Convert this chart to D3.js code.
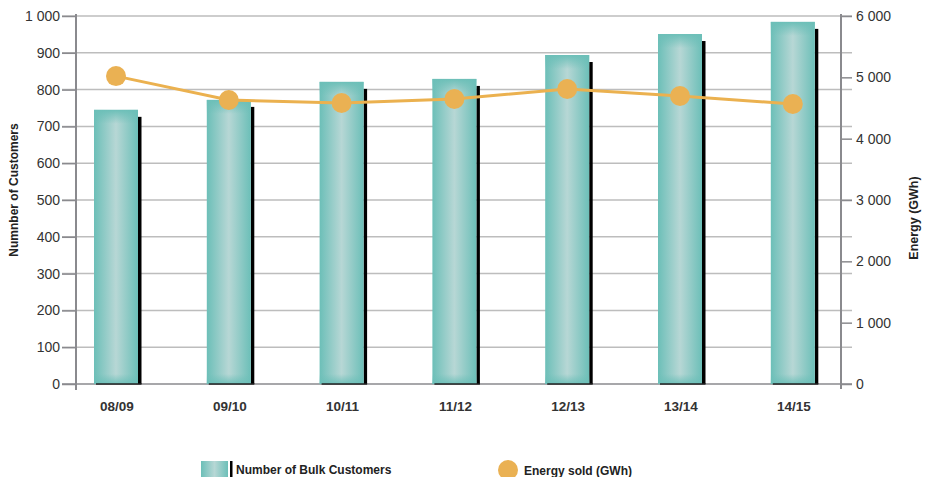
<!DOCTYPE html>
<html><head><meta charset="utf-8">
<script src="https://cdn.jsdelivr.net/npm/d3@7"></script>
<style>body{margin:0;background:#fff}svg{display:block;font-family:"Liberation Sans",Arial,sans-serif}</style>
</head><body><svg id="c" width="929" height="477"></svg>
<script>
const categories = ["08/09","09/10","10/11","11/12","12/13","13/14","14/15"];
const customers = [745, 772, 821, 829, 894, 951, 984];
const energy = [5020, 4630, 4582, 4647, 4810, 4696, 4565];
const leftTicks = [0,100,200,300,400,500,600,700,800,900,1000];
const rightTicks = [0,1000,2000,3000,4000,5000,6000];
const seriesNames = ["Number of Bulk Customers","Energy sold (GWh)"];

const svg = d3.select("#c");
const fmt = v => d3.format(",")(v).replace(/,/g, " ");
const x = d3.scaleBand().domain(categories).range([59.6, 849.2]).paddingInner(0.61).paddingOuter(0.305);
const yL = d3.scaleLinear().domain([0,1000]).range([384,16]);
const yR = d3.scaleLinear().domain([0,6000]).range([384,16]);
const axL = 76, axR = 841;

const defs = svg.append("defs");
const g1 = defs.append("linearGradient").attr("id","gh").attr("x1","0").attr("x2","1").attr("y1","0").attr("y2","0");
[[0,"#6cbfb8"],[0.5,"#b7d7d5"],[1,"#6cbfb8"]].forEach(s=>g1.append("stop").attr("offset",s[0]).attr("stop-color",s[1]));
const g2 = defs.append("linearGradient").attr("id","gv").attr("x1","0").attr("x2","0").attr("y1","0").attr("y2","1");
[[0,"#6cbfb8",1],[1,"#6cbfb8",0]].forEach(s=>g2.append("stop").attr("offset",s[0]).attr("stop-color",s[1]).attr("stop-opacity",s[2]));
const g3 = defs.append("linearGradient").attr("id","gb").attr("x1","0").attr("x2","0").attr("y1","0").attr("y2","1");
[[0,"#6cbfb8",0],[1,"#6cbfb8",0.9]].forEach(s=>g3.append("stop").attr("offset",s[0]).attr("stop-color",s[1]).attr("stop-opacity",s[2]));

// gridlines
svg.append("g").selectAll("line").data(leftTicks).join("line")
  .attr("x1",62).attr("x2",852).attr("y1",d=>yL(d)).attr("y2",d=>yL(d))
  .attr("stroke",d=>d===0?"#8a8a8e":"#bdbdbd").attr("stroke-width",1.5);

// bars
const bw = x.bandwidth();
const bars = svg.append("g");
bars.selectAll("rect.sh").data(customers).join("rect").attr("class","sh")
  .attr("x",(d,i)=>x(categories[i])+bw).attr("width",3.5)
  .attr("y",d=>yL(d)+7).attr("height",d=>yL(0)-yL(d)-7).attr("fill","#000");
bars.selectAll("rect.b").data(customers).join("rect").attr("class","b")
  .attr("x",(d,i)=>x(categories[i])).attr("width",bw)
  .attr("y",d=>yL(d)).attr("height",d=>yL(0)-yL(d)).attr("fill","url(#gh)");
bars.selectAll("rect.t").data(customers).join("rect").attr("class","t")
  .attr("x",(d,i)=>x(categories[i])).attr("width",bw)
  .attr("y",d=>yL(d)).attr("height",14).attr("fill","url(#gv)");
bars.selectAll("rect.bb").data(customers).join("rect").attr("class","bb")
  .attr("x",(d,i)=>x(categories[i])).attr("width",bw)
  .attr("y",yL(0)-10).attr("height",10).attr("fill","url(#gb)");
bars.selectAll("line.bl").data(customers).join("line").attr("class","bl")
  .attr("x1",(d,i)=>x(categories[i])+2).attr("x2",(d,i)=>x(categories[i])+bw+3.5)
  .attr("y1",yL(0)).attr("y2",yL(0)).attr("stroke","#222").attr("stroke-width",1.5);

// axes lines
svg.append("line").attr("x1",axL).attr("x2",axL).attr("y1",14).attr("y2",390).attr("stroke","#8a8a8e").attr("stroke-width",2);
svg.append("line").attr("x1",axR).attr("x2",axR).attr("y1",14).attr("y2",389).attr("stroke","#8a8a8e").attr("stroke-width",2);

// left ticks
const la = svg.append("g").attr("transform",`translate(${axL},0)`)
  .call(d3.axisLeft(yL).tickValues(leftTicks).tickFormat(fmt).tickSize(14).tickPadding(2));
la.select(".domain").remove();
la.selectAll("line").attr("stroke","#8a8a8e").attr("stroke-width",1.5);
la.selectAll("text").attr("font-size",14).attr("fill","#333").attr("font-family","Liberation Sans, Arial");

const ra = svg.append("g").attr("transform",`translate(${axR},0)`)
  .call(d3.axisRight(yR).tickValues(rightTicks).tickFormat(fmt).tickSize(11).tickPadding(4));
ra.select(".domain").remove();
ra.selectAll("line").attr("stroke","#8a8a8e").attr("stroke-width",1.5);
ra.selectAll("text").attr("font-size",14).attr("fill","#333").attr("font-family","Liberation Sans, Arial");

// x labels
svg.append("g").selectAll("text").data(categories).join("text")
  .attr("x",d=>x(d)+bw/2+1).attr("y",411).attr("text-anchor","middle")
  .attr("font-size",13.5).attr("font-weight","bold").attr("fill","#333").text(d=>d);

// line series
const line = d3.line().x((d,i)=>x(categories[i])+bw/2).y(d=>yR(d));
svg.append("path").datum(energy).attr("d",line).attr("fill","none").attr("stroke","#ebb14f").attr("stroke-width",3);
svg.append("g").selectAll("circle").data(energy).join("circle")
  .attr("cx",(d,i)=>x(categories[i])+bw/2).attr("cy",d=>yR(d)).attr("r",10).attr("fill","#eab153");

// axis titles
svg.append("text").attr("transform","translate(18,190) rotate(-90)").attr("text-anchor","middle")
  .attr("font-size",12).attr("font-weight","bold").attr("fill","#222").text("Numnber of Customers");
svg.append("text").attr("transform","translate(918,218) rotate(-90)").attr("text-anchor","middle")
  .attr("font-size",12.5).attr("font-weight","bold").attr("fill","#222").text("Energy (GWh)");

// legend
const lg = svg.append("g");
lg.append("rect").attr("x",201).attr("y",461).attr("width",27).attr("height",16).attr("fill","url(#gh)");
lg.append("rect").attr("x",230).attr("y",461).attr("width",2.5).attr("height",16).attr("fill","#000");
lg.append("text").attr("x",236).attr("y",474).attr("font-size",12).attr("font-weight","bold").attr("fill","#222").text(seriesNames[0]);
lg.append("circle").attr("cx",508).attr("cy",470).attr("r",10).attr("fill","#eab153");
lg.append("text").attr("x",524).attr("y",475).attr("font-size",12).attr("font-weight","bold").attr("fill","#222").text(seriesNames[1]);
</script></body></html>
